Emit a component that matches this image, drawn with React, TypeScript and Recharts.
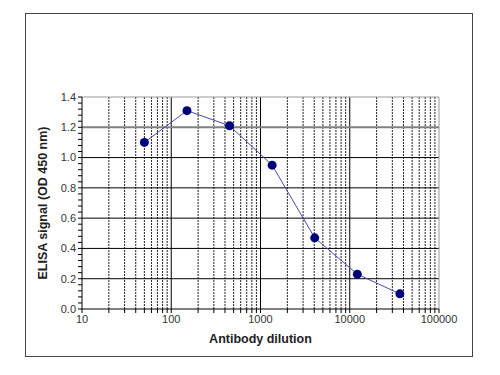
import { LineChart, Line, XAxis, YAxis, ReferenceLine } from "recharts";

// antibody dilution (x) vs ELISA signal (y)
const dilutions = [50, 150, 450, 1350, 4050, 12150, 36450];
const signals = [1.1, 1.31, 1.21, 0.95, 0.47, 0.23, 0.1];

const decadeTicks = [10, 100, 1000, 10000, 100000];
const minorSteps = [2, 3, 4, 5, 6, 7, 8, 9];
const yMajorTicks = [0, 0.2, 0.4, 0.6, 0.8, 1.0, 1.2, 1.4];

const data = dilutions.map((d, i) => ({ dilution: d, signal: signals[i] }));

const minorX = decadeTicks.slice(0, -1).flatMap((d) => minorSteps.map((m) => d * m));
const xTicks = [...decadeTicks, ...minorX].sort((a, b) => a - b);
const yTicks = Array.from({ length: 36 }, (_, i) => Math.round(i * 4) / 100);

const FONT = "'Liberation Sans', Arial, sans-serif";

const isMajorY = (v: number) => Math.abs(v * 5 - Math.round(v * 5)) < 1e-6;
const isDecade = (v: number) => Math.abs(Math.log10(v) - Math.round(Math.log10(v))) < 1e-9;

function YLabel(props: any) {
  const vb = props.viewBox || { x: 0, y: 0, width: 0, height: 0 };
  const cx = vb.x + 13;
  const cy = vb.y + vb.height / 2;
  return (
    <text
      x={cx}
      y={cy}
      transform={`rotate(-90, ${cx}, ${cy})`}
      textAnchor="middle"
      dominantBaseline="central"
      fontFamily={FONT}
      fontSize={12.5}
      fontWeight="bold"
      fill="#222"
    >
      ELISA signal (OD 450 nm)
    </text>
  );
}

export default function App() {
  return (
    <div style={{ position: "absolute", left: 0, top: 0, width: 500, height: 375, background: "#fff" }}>
      <div
        style={{
          position: "absolute",
          left: 25,
          top: 13,
          width: 446,
          height: 342,
          border: "1.5px solid #444",
        }}
      />
      <div style={{ position: "absolute", left: 0, top: 0 }}>
        <LineChart
          width={500}
          height={375}
          data={data}
          margin={{ top: 97, right: 61, bottom: 30, left: 30 }}
        >
          <XAxis
            dataKey="dilution"
            type="number"
            scale="log"
            domain={[10, 100000]}
            ticks={xTicks}
            interval={0}
            tickFormatter={(v: number) => (isDecade(v) ? String(v) : "")}
            tick={{ fontFamily: FONT, fontSize: 11, fill: "#333" }}
            tickSize={4}
            tickLine={{ stroke: "#000" }}
            axisLine={{ stroke: "#000" }}
            height={36}
            allowDataOverflow
            label={{
              value: "Antibody dilution",
              position: "insideBottom",
              offset: 2,
              style: { fontFamily: FONT, fontSize: 12.5, fontWeight: "bold", fill: "#222" },
            }}
          />
          <YAxis
            type="number"
            domain={[0, 1.4]}
            ticks={yTicks}
            interval={0}
            tickFormatter={(v: number) => (isMajorY(v) ? v.toFixed(1) : "")}
            tick={{ fontFamily: FONT, fontSize: 11, fill: "#333" }}
            tickSize={4}
            tickLine={{ stroke: "#000" }}
            axisLine={{ stroke: "#000" }}
            width={52}
            label={{ content: <YLabel /> }}
          />
          {minorX.map((v) => (
            <ReferenceLine key={`mx${v}`} x={v} stroke="#222" strokeDasharray="2 1" strokeWidth={1} />
          ))}
          {decadeTicks.slice(1, -1).map((v) => (
            <ReferenceLine key={`dx${v}`} x={v} stroke="#000" strokeWidth={1} />
          ))}
          {yMajorTicks.slice(1, -2).map((v) => (
            <ReferenceLine key={`hy${v}`} y={v} stroke="#000" strokeWidth={1} />
          ))}
          <ReferenceLine y={1.2} stroke="#808080" strokeWidth={2} />
          <ReferenceLine y={1.4} stroke="#999" strokeWidth={1} />
          <ReferenceLine x={100000} stroke="#999" strokeWidth={1} />
          <Line
            type="linear"
            dataKey="signal"
            stroke="#4a4aaa"
            strokeWidth={1}
            dot={{ r: 4.5, fill: "#00007a", stroke: "#00007a", strokeWidth: 0 }}
            isAnimationActive={false}
          />
        </LineChart>
      </div>
    </div>
  );
}
